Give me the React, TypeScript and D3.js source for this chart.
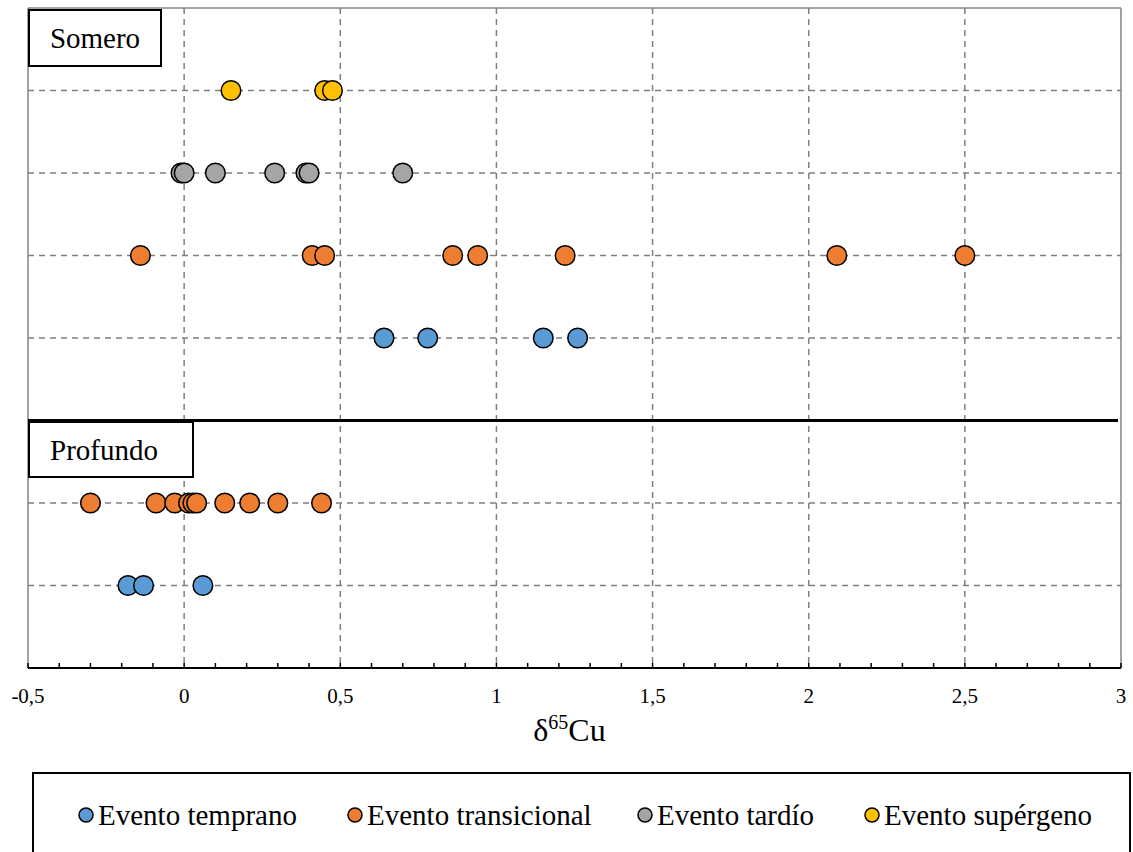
import React from "react";
import * as d3 from "d3";

const seriesNames = ["Evento temprano", "Evento transicional", "Evento tardío", "Evento supérgeno"];
const seriesColors = ["#5B9BD5", "#ED7D31", "#A5A5A5", "#FFC000"];

// Somero
const someroTemprano = [0.64, 0.78, 1.15, 1.26];
const someroTransicional = [-0.14, 0.41, 0.45, 0.86, 0.94, 1.22, 2.09, 2.5];
const someroTardio = [-0.01, 0.0, 0.1, 0.29, 0.39, 0.4, 0.7];
const someroSupergeno = [0.15, 0.45, 0.475];
// Profundo
const profundoTransicional = [-0.3, -0.09, -0.03, 0.014, 0.028, 0.04, 0.13, 0.21, 0.3, 0.44];
const profundoTemprano = [-0.18, -0.13, 0.06];

const xTicks = [-0.5, 0, 0.5, 1, 1.5, 2, 2.5, 3];

const rows = [
  { values: someroSupergeno, row: 7, s: 3 },
  { values: someroTardio, row: 6, s: 2 },
  { values: someroTransicional, row: 5, s: 1 },
  { values: someroTemprano, row: 4, s: 0 },
  { values: profundoTransicional, row: 2, s: 1 },
  { values: profundoTemprano, row: 1, s: 0 },
];

const FONT = "Liberation Serif";

export default function App() {
  const W = 1133, H = 852;
  const left = 28, right = 1121, top = 8, bottom = 668;
  const x = d3.scaleLinear().domain([-0.5, 3]).range([left, right]);
  const y = d3.scaleLinear().domain([0, 8]).range([bottom, top]);
  const minor = d3.range(-5, 31).map((i) => i / 10);
  const gridRows = [1, 2, 4, 5, 6, 7];
  const legendX = [86, 355, 645, 872];
  const ts = { fontFamily: FONT };

  return (
    <svg width={W} height={H} style={{ position: "absolute", left: 0, top: 0, fontFamily: FONT }}>
      <rect x={0} y={0} width={W} height={H} fill="#fff" />
      {xTicks.slice(1, -1).map((t) => (
        <line key={"vg" + t} x1={x(t)} x2={x(t)} y1={top} y2={bottom} stroke="#7f7f7f" strokeWidth={1.5} strokeDasharray="6,5" />
      ))}
      {gridRows.map((r) => (
        <line key={"hg" + r} x1={left} x2={right} y1={y(r)} y2={y(r)} stroke="#7f7f7f" strokeWidth={1.5} strokeDasharray="6,5" />
      ))}
      <line x1={left} x2={left} y1={top} y2={bottom} stroke="#858585" strokeWidth={1.5} />
      <line x1={left} x2={right} y1={top} y2={top} stroke="#858585" strokeWidth={1.5} />
      <line x1={right} x2={right} y1={top} y2={bottom} stroke="#858585" strokeWidth={1.5} />
      <line x1={left} x2={right - 3} y1={y(3)} y2={y(3)} stroke="#000" strokeWidth={3} />
      <line x1={left} x2={right} y1={bottom} y2={bottom} stroke="#000" strokeWidth={2} />
      {minor.map((t) => (
        <line key={"mt" + t} x1={x(t)} x2={x(t)} y1={bottom} y2={bottom - 5} stroke="#000" strokeWidth={1.5} />
      ))}
      {xTicks.map((t) => (
        <text key={"tl" + t} x={x(t)} y={703} textAnchor="middle" fontSize={21} fill="#000" style={ts}>
          {String(t).replace(".", ",")}
        </text>
      ))}
      <text x={x(1.25) - 5} y={741} textAnchor="middle" fontSize={32} fill="#000" style={ts}>
        δ<tspan fontSize={20} dy={-12}>65</tspan><tspan dy={12}>Cu</tspan>
      </text>
      {rows.map((r, i) => (
        <g key={"r" + i}>
          {r.values.map((v, j) => (
            <circle key={j} cx={x(v)} cy={y(r.row)} r={9.8} fill={seriesColors[r.s]} stroke="#000" strokeWidth={1.5} />
          ))}
        </g>
      ))}
      <rect x={29} y={10} width={132} height={56} fill="#fff" stroke="#000" strokeWidth={2} />
      <text x={95} y={48} textAnchor="middle" fontSize={29} fill="#000" style={ts}>Somero</text>
      <rect x={29} y={422} width={164} height={55} fill="#fff" stroke="#000" strokeWidth={2} />
      <text x={104} y={460} textAnchor="middle" fontSize={29} fill="#000" style={ts}>Profundo</text>
      <rect x={33} y={773} width={1097} height={90} fill="#fff" stroke="#000" strokeWidth={2} />
      {seriesNames.map((n, i) => (
        <g key={n}>
          <circle cx={legendX[i]} cy={815} r={7} fill={seriesColors[i]} stroke="#000" strokeWidth={1.5} />
          <text x={legendX[i] + 12} y={825} fontSize={29} fill="#000" style={ts}>{n}</text>
        </g>
      ))}
    </svg>
  );
}
